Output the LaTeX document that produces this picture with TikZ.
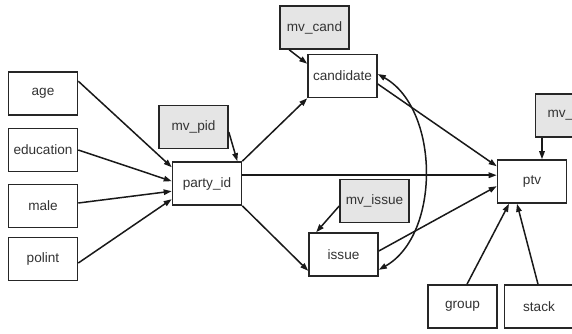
\documentclass[tikz,border=0pt]{standalone}
\usepackage{fontspec}
\setmainfont{Liberation Sans}
\usetikzlibrary{arrows.meta}
\tikzset{
  obs/.style={draw=black!85, line width=1.6pt, fill=white, minimum width=69pt, minimum height=43pt, inner sep=0pt, font=\fontsize{13.6}{16}\selectfont, text=black!80},
  latent/.style={obs, fill=black!10},
  conn/.style={draw=black!90, line width=1.5pt, -{Triangle[length=8pt,width=5.5pt]}},
  dconn/.style={draw=black!90, line width=1.5pt, {Triangle[length=8pt,width=5.5pt]}-{Triangle[length=8pt,width=5.5pt]}}
}
\begin{document}
\begin{tikzpicture}[x=1pt,y=-1pt]
\useasboundingbox (0,0) rectangle (572,333);
\clip (0,0) rectangle (572,333);
\fill[white] (0,0) rectangle (572,333);
% nodes
\node[obs] (age) at (43,93.5) {age};
\node[obs] (education) at (43,150) {education};
\node[obs] (male) at (43,206) {male};
\node[obs] (polint) at (43,259) {polint};
\node[latent] (mvpid) at (193.5,127) {mv\_pid};
\node[obs] (party) at (207,183.5) {party\_id};
\node[latent] (mvcand) at (314.5,27.5) {mv\_cand};
\node[obs] (cand) at (342.5,76) {candidate};
\node[latent] (mvissue) at (374.5,201) {mv\_issue};
\node[obs] (issue) at (343.5,254.5) {issue};
\node[obs] (ptv) at (532,181.5) {ptv};
\node[latent, text width=45pt, align=left] (mvptv) at (570,115.5) {mv\_};
\node[obs] (group) at (462.5,306.5) {group};
\node[obs] (stack) at (539,306.5) {stack};
% connectors
\draw[conn] ([yshift=-10pt]age.north east) -- ([yshift=-6pt]party.north west);
\draw[conn] (education.east) -- ([yshift=-20pt]party.north west);
\draw[conn] ([yshift=3pt]male.east) -- ([yshift=-30pt]party.north west);
\draw[conn] ([yshift=-4pt]polint.east) -- ([yshift=-38pt]party.north west);
\draw[conn] ([yshift=-5pt]mvpid.east) -- ([xshift=-5pt]party.north east);
\draw[conn] (party.north east) -- (cand.south west);
\coordinate (pp) at ([yshift=-14pt]party.north east);
\draw[conn] (pp) -- (pp -| ptv.west);
\draw[conn] (party.south east) -- ([yshift=6pt]issue.south west);
\draw[conn] ([xshift=10pt]mvcand.south west) -- ([yshift=-10pt]cand.north west);
\draw[conn] ([yshift=-8pt]cand.east) -- ([yshift=-7pt]ptv.north west);
\draw[conn] ([yshift=3.5pt]issue.east) -- ([yshift=-27pt]ptv.north west);
\draw[conn] ([yshift=-5pt]mvissue.west) -- ([xshift=8pt]issue.north west);
\draw[dconn] ([yshift=2pt]cand.east) .. controls +(62,35) and +(62,-35) .. ([yshift=7pt]issue.south east);
\draw[conn] ([xshift=4.5pt]group.north) -- ([xshift=-23pt]ptv.south);
\draw[conn] ([xshift=-1pt]stack.north) -- ([xshift=-15pt]ptv.south);
\draw[conn] ([xshift=-28pt]mvptv.south) -- ([xshift=10pt]ptv.north);
\end{tikzpicture}
\end{document}
